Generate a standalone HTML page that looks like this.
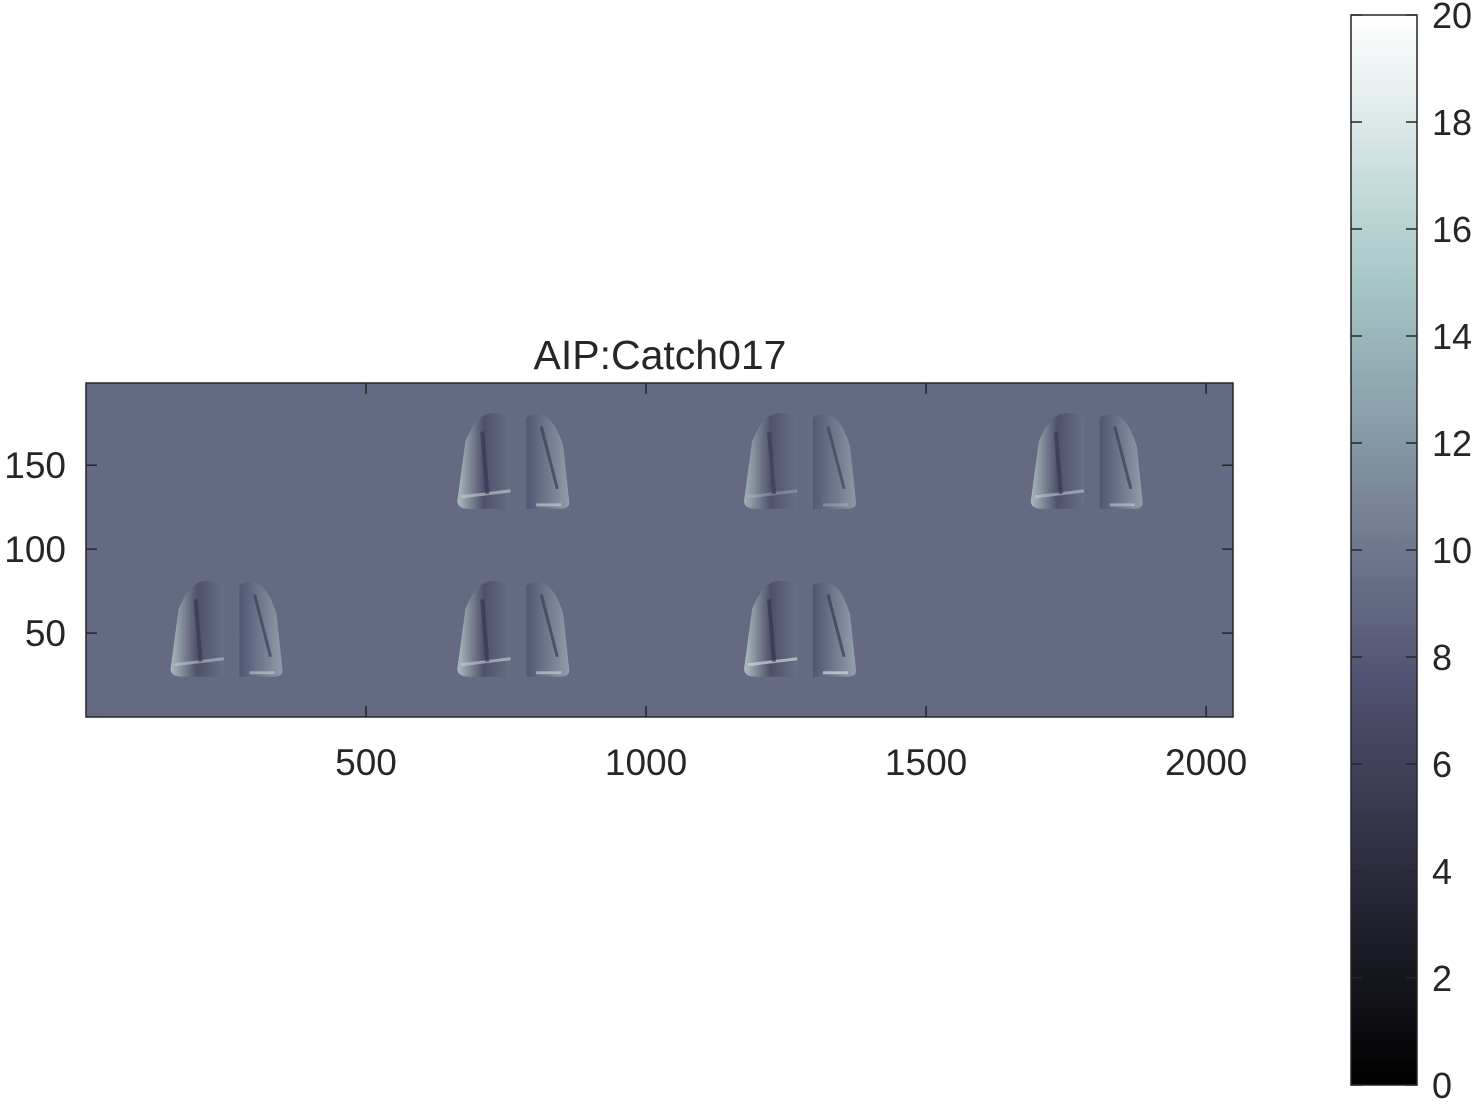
<!DOCTYPE html>
<html><head><meta charset="utf-8"><style>
html,body{margin:0;padding:0;background:#fff;}
svg text{font-family:"Liberation Sans",Arial,sans-serif;fill:#262626;}
</style></head><body>
<svg width="1477" height="1103" viewBox="0 0 1477 1103">
<defs>
<linearGradient id="bone" x1="0" y1="1" x2="0" y2="0">
<stop offset="0" stop-color="#000000"/>
<stop offset="0.375" stop-color="#515171"/>
<stop offset="0.75" stop-color="#a6c6c6"/>
<stop offset="1" stop-color="#ffffff"/>
</linearGradient>
<linearGradient id="lungL" x1="0" y1="0" x2="1" y2="0">
<stop offset="0" stop-color="#b8cccc"/><stop offset="0.5" stop-color="#4a4c66"/><stop offset="1" stop-color="#6a7088"/>
</linearGradient>
<linearGradient id="lungR" x1="0" y1="0" x2="1" y2="0">
<stop offset="0" stop-color="#4e5270"/><stop offset="0.6" stop-color="#7c8498"/><stop offset="1" stop-color="#9aaab4"/>
</linearGradient>
<clipPath id="axclip"><rect x="86" y="383" width="1147" height="334"/></clipPath>
</defs>
<text x="660" y="369" font-size="41" text-anchor="middle">AIP:Catch017</text>
<rect x="86" y="383" width="1147" height="334" fill="#636a82"/>
<g id="lungs" clip-path="url(#axclip)"></g>
<rect x="86" y="383" width="1147" height="334" fill="none" stroke="#262626" stroke-width="1.5"/>
<g id="xticks"></g>
<g id="yticks"></g>
<rect x="1351" y="15" width="66" height="1070" fill="url(#bone)" stroke="#262626" stroke-width="1.5"/>
<g id="cticks"></g>
</svg>
<script>
const xTicks=[500,1000,1500,2000];
const yTicks=[50,100,150];
const cTicks=[0,2,4,6,8,10,12,14,16,18,20];
const pairCentersX=[256,768,1280,768,1280,1792];
const pairRowsY=[0,0,0,100,100,100];
const pairBrightness=[0.55,0.6,0.7,0.6,0.35,0.55];
const NS='http://www.w3.org/2000/svg';
const X0=86,X1=1233,Y0=717,Y1=383,XMAX=2048,YMAX=199;
const sx=v=>X0+v*(X1-X0)/XMAX, sy=v=>Y0-v*(Y0-Y1)/YMAX;
const cy=v=>1085-v*(1085-15)/20;
function mk(tag,attrs,parent){const e=document.createElementNS(NS,tag);for(const k in attrs)e.setAttribute(k,attrs[k]);parent.appendChild(e);return e;}
const xg=document.getElementById('xticks');
xTicks.forEach(t=>{const x=sx(t);
 mk('line',{x1:x,y1:Y0,x2:x,y2:Y0-11,stroke:'#262626','stroke-width':1.5},xg);
 mk('line',{x1:x,y1:Y1,x2:x,y2:Y1+11,stroke:'#262626','stroke-width':1.5},xg);
 const tx=mk('text',{x:x,y:Y0+58,'font-size':37,'text-anchor':'middle'},xg);tx.textContent=t;
 
 });
const yg=document.getElementById('yticks');
yTicks.forEach(t=>{const y=sy(t);
 mk('line',{x1:X0,y1:y,x2:X0+11,y2:y,stroke:'#262626','stroke-width':1.5},yg);
 mk('line',{x1:X1,y1:y,x2:X1-11,y2:y,stroke:'#262626','stroke-width':1.5},yg);
 const tx=mk('text',{x:66,y:y+13,'font-size':37,'text-anchor':'end'},yg);tx.textContent=t;
 
 });
const cg=document.getElementById('cticks');
cTicks.forEach(t=>{const y=cy(t);
 mk('line',{x1:1417,y1:y,x2:1406,y2:y,stroke:'#262626','stroke-width':1.5},cg);
 mk('line',{x1:1351,y1:y,x2:1362,y2:y,stroke:'#262626','stroke-width':1.5},cg);
 const tx=mk('text',{x:1432,y:y+13,'font-size':36},cg);tx.textContent=t;
 
 });
const lg=document.getElementById('lungs');
pairCentersX.forEach((c,i)=>{
 const r=pairRowsY[i], b=pairBrightness[i];
 const g=mk('g',{opacity:0.6+0.4*b},lg);
 
 
 const Lx1=sx(c-105),Lx2=sx(c-10),yb=sy(r+24),yt=sy(r+82);
 const lp=mk('path',{d:`M${Lx2},${yt+6} C${Lx2-20},${yt-3} ${Lx1+20},${yt} ${Lx1+8},${yt+30} L${Lx1},${yb-8} Q${Lx1},${yb} ${Lx1+12},${yb} L${Lx2},${yb} Z`,fill:'url(#lungL)'},g);
 
 
 const Rx1=sx(c+18),Rx2=sx(c+95);
 const rp=mk('path',{d:`M${Rx1},${yt+6} C${Rx1+15},${yt-3} ${Rx2-15},${yt+5} ${Rx2-6},${yt+35} L${Rx2},${yb-6} Q${Rx2},${yb} ${Rx2-10},${yb} L${Rx1},${yb} Z`,fill:'url(#lungR)'},g);
 
 
 mk('line',{x1:Lx1+4,y1:yb-12,x2:Lx2,y2:yb-18,stroke:'#d8e6e6','stroke-width':3,opacity:b},g);
 mk('line',{x1:Rx1+10,y1:yb-4,x2:Rx2-8,y2:yb-4,stroke:'#e0ecec','stroke-width':3,opacity:b},g);
 mk('line',{x1:Lx1+25,y1:yt+20,x2:Lx1+30,y2:yb-15,stroke:'#2e3046','stroke-width':4,opacity:0.7},g);
 mk('line',{x1:Rx1+15,y1:yt+15,x2:Rx2-12,y2:yb-20,stroke:'#333650','stroke-width':3,opacity:0.7},g);
});
</script>
</body></html>
